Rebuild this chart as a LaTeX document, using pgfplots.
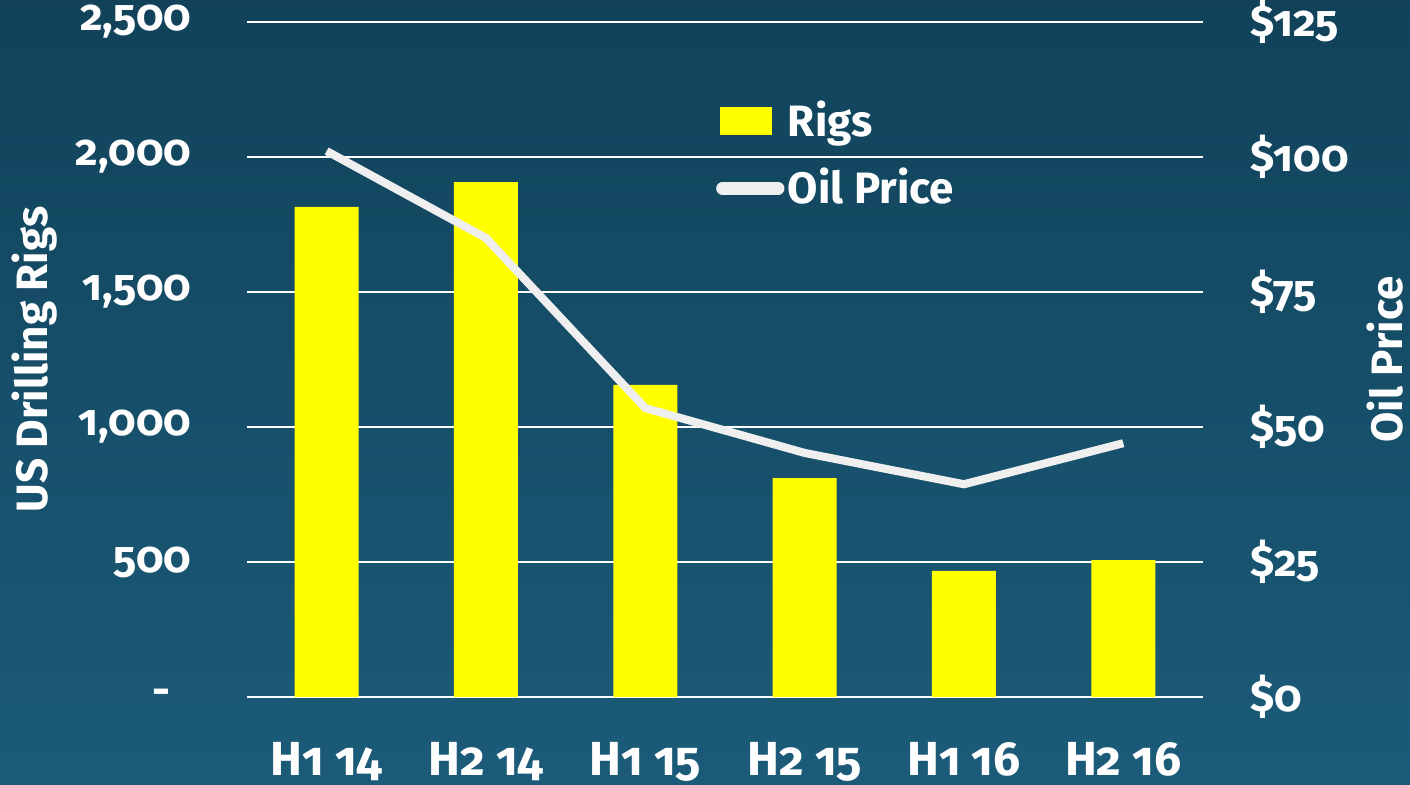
\documentclass[border=0pt]{standalone}
\usepackage{pgfplots}
\pgfplotsset{compat=1.18}
\usepackage{fontspec}
\setmainfont{Fira Sans}[Numbers=OldStyle]

\definecolor{bgtop}{HTML}{11425A}
\definecolor{bgbot}{HTML}{1B5B79}
\definecolor{rigs}{HTML}{FFFF00}
\definecolor{oil}{HTML}{EFEFEF}

\pgfplotsset{
  base/.style={
    scale only axis, width=9.56cm, height=6.75cm,
    xmin=-0.5, xmax=5.5,
    axis line style={draw=none},
    major tick length=0pt,
    tick label style={white, font=\bfseries\fontsize{12.5}{15}\selectfont},
    label style={white, font=\bfseries\fontsize{12.5}{15}\selectfont},
  }
}

\begin{document}
\begin{tikzpicture}
\shade[top color=bgtop, bottom color=bgbot] (-2.47,-0.87) rectangle (11.63,6.97);
\useasboundingbox (-2.47,-0.87) rectangle (11.63,6.97);

\begin{axis}[base,
  at={(0,0)}, anchor=south west,
  ymin=0, ymax=2500,
  ytick={0,500,...,2500},
  yticklabels={{-\kern2.1mm\null},500,{1,000},{1,500},{2,000},{2,500}},
  yticklabel style={anchor=east, inner sep=0pt, xshift=-5.5mm},
  xtick={0,...,5},
  xticklabels={H1 14,H2 14,H1 15,H2 15,H1 16,H2 16},
  xticklabel style={anchor=north, inner sep=0pt, yshift=-4.5mm,
    font=\bfseries\fontsize{13.6}{16}\selectfont},
  ymajorgrids, grid style={white, line width=0.6pt},
  ylabel={US Drilling Rigs},
  ylabel style={at={(rel axis cs:0,0.5)}, anchor=center, yshift=21.2mm},
  ybar, bar width=6.4mm,
]
\addplot[fill=rigs, draw=none] coordinates {
  (0,1815) (1,1907) (2,1156) (3,811) (4,467) (5,507)
};
\end{axis}

\begin{axis}[base,
  at={(0,0)}, anchor=south west,
  axis y line*=right, axis x line=none,
  ymin=0, ymax=125,
  ytick={0,25,...,125},
  yticklabels={\$0,\$25,\$50,\$75,\$100,\$125},
  yticklabel style={anchor=west, inner sep=0pt, xshift=4.7mm},
  ylabel={Oil Price},
  ylabel style={at={(rel axis cs:1,0.5)}, anchor=center, yshift=-18.2mm},
  legend style={at={(rel axis cs:0.479,0.9)}, anchor=north west,
    draw=none, fill=none, text=white,
    font=\bfseries\fontsize{12.5}{15}\selectfont,
    nodes={inner sep=1pt}, row sep=5.5pt},
  legend cell align=left,
]
\addlegendimage{legend image code/.code={\fill[rigs] (0cm,-0.135cm) rectangle (0.51cm,0.135cm);}}
\addlegendentry{Rigs}
\addplot[oil, line width=2.3pt,
  legend image code/.code={\draw[oil, line width=3.5pt, line cap=round] (0.02cm,0) -- (0.58cm,0);}]
  coordinates {
  (0,101.1) (1,85.0) (2,53.5) (3,45.2) (4,39.4) (5,47.0)
};
\addlegendentry{Oil Price}
\end{axis}
\end{tikzpicture}
\end{document}
